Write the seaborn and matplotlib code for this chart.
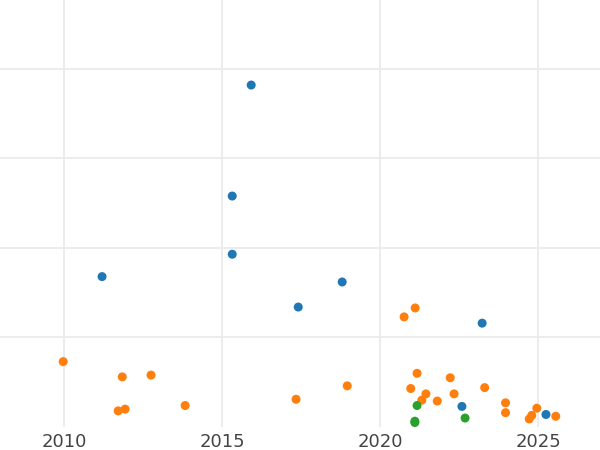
import numpy as np
import pandas as pd
import matplotlib
matplotlib.use("Agg")
import matplotlib.pyplot as plt
import seaborn as sns

# values
blue_year = [2015.92, 2015.32, 2015.32, 2011.20, 2017.41, 2018.80, 2023.23, 2022.59, 2025.25]
blue_val = [3.82, 2.58, 1.93, 1.68, 1.34, 1.62, 1.16, 0.23, 0.14]

orange_year = [2009.97, 2011.84, 2012.75, 2011.71, 2011.93, 2013.83, 2017.34, 2018.96,
               2020.76, 2021.11, 2021.17, 2020.97, 2021.45, 2021.32, 2021.81, 2022.22,
               2022.34, 2023.31, 2023.97, 2023.97, 2024.72, 2024.80, 2024.96, 2025.56]
orange_val = [0.73, 0.56, 0.58, 0.18, 0.20, 0.24, 0.31, 0.46,
              1.23, 1.33, 0.60, 0.43, 0.37, 0.30, 0.29, 0.55,
              0.37, 0.44, 0.27, 0.16, 0.09, 0.13, 0.21, 0.12]

green_year = [2021.17, 2021.10, 2021.10, 2022.69]
green_val = [0.24, 0.065, 0.05, 0.10]

groups = ["A", "B", "C"]
colors = ["#1f77b4", "#ff7f0e", "#2ca02c"]

df = pd.DataFrame({
    "year": blue_year + orange_year + green_year,
    "value": blue_val + orange_val + green_val,
    "group": [groups[0]] * len(blue_year) + [groups[1]] * len(orange_year) + [groups[2]] * len(green_year),
})

sns.set_theme(style="whitegrid", rc={"grid.color": "#ebebeb", "grid.linewidth": 1.3})

fig = plt.figure(figsize=(6, 4.5), dpi=100)
ax = fig.add_axes([0, 0.0511, 1, 0.9489])

sns.scatterplot(data=df, x="year", y="value", hue="group", palette=colors,
                s=42, linewidth=0, legend=False, ax=ax)

ax.set_xlim(2007.97, 2026.96)
ax.set_ylim(0, 4.77)
ax.set_xticks([2010, 2015, 2020, 2025])
ax.set_yticks([1, 2, 3, 4])
ax.set_yticklabels([])
ax.set_xlabel("")
ax.set_ylabel("")
ax.tick_params(axis="x", length=0, labelsize=13, labelcolor="#444444", pad=4)
ax.tick_params(axis="y", length=0)
for s in ax.spines.values():
    s.set_visible(False)

plt.savefig("out.png", dpi=100)
